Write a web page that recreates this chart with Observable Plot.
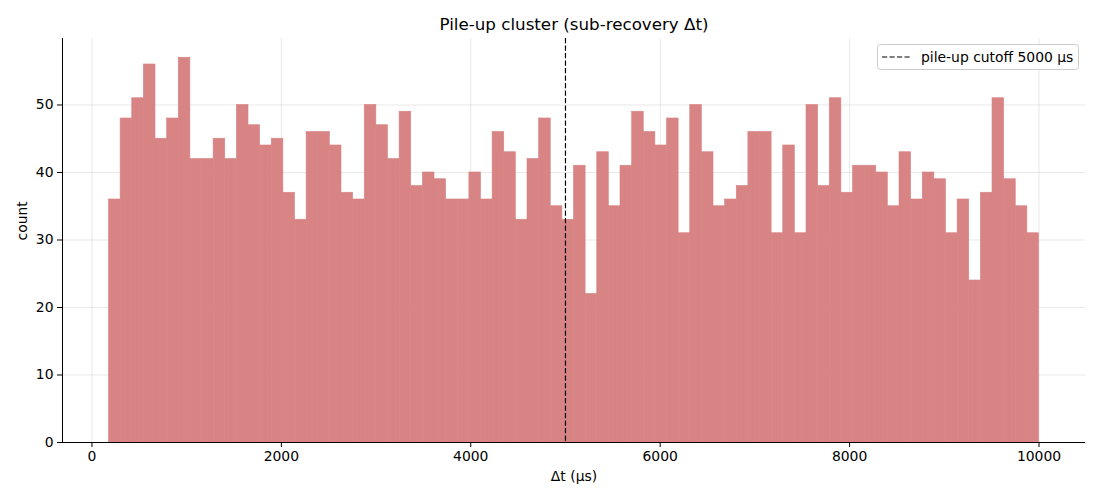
<!DOCTYPE html>
<html>
<head>
<meta charset="utf-8">
<script src="https://cdn.jsdelivr.net/npm/d3@7"></script>
<script src="https://cdn.jsdelivr.net/npm/@observablehq/plot@0.6"></script>
<style>
  html, body { margin: 0; padding: 0; background: #fff; }
  #chart { width: 1100px; height: 500px; position: relative; }
  svg { font-family: "DejaVu Sans", sans-serif; }
</style>
</head>
<body>
<div id="chart"></div>
<script>
// Histogram of Δt (µs): 80 equal-width bins from binLo to binHi
const binLo = 180;
const binHi = 10000;
const counts = [
  36, 48, 51, 56, 45, 48, 57, 42, 42, 45,
  42, 50, 47, 44, 45, 37, 33, 46, 46, 44,
  37, 36, 50, 47, 42, 49, 38, 40, 39, 36,
  36, 40, 36, 46, 43, 33, 42, 48, 35, 33,
  41, 22, 43, 35, 41, 49, 46, 44, 48, 31,
  50, 43, 35, 36, 38, 46, 46, 31, 44, 31,
  50, 38, 51, 37, 41, 41, 40, 35, 43, 36,
  40, 39, 31, 36, 24, 37, 51, 39, 35, 31
];
const cutoff = 5000;
const xTicks = [0, 2000, 4000, 6000, 8000, 10000];
const yTicks = [0, 10, 20, 30, 40, 50];
const titleText = "Pile-up cluster (sub-recovery Δt)";
const xLabel = "Δt (µs)";
const yLabel = "count";
const legendLabel = "pile-up cutoff 5000 µs";
const barColor = "#d88484";

const w = (binHi - binLo) / counts.length;
const bins = counts.map((c, i) => ({x1: binLo + i * w, x2: binLo + (i + 1) * w, y: c}));
const span = binHi - binLo;
const xDomain = [binLo - 0.05 * span, binHi + 0.05 * span];
const yDomain = [0, d3.max(counts) * 1.05];

const mL = 62, mR = 15, mT = 38, mB = 58, W = 1100, H = 500;
const dash = "5.2,2.3";

const chart = Plot.plot({
  width: W, height: H,
  marginLeft: mL, marginRight: mR, marginTop: mT, marginBottom: mB,
  style: {fontFamily: "DejaVu Sans, sans-serif", fontSize: "13.9px", color: "#000", background: "#fff"},
  x: {domain: xDomain, ticks: xTicks, tickFormat: d => String(d), label: null},
  y: {domain: yDomain, ticks: yTicks, tickFormat: d => String(d), label: null},
  marks: [
    Plot.gridX(xTicks, {stroke: "#b0b0b0", strokeOpacity: 0.35, strokeWidth: 0.8}),
    Plot.gridY(yTicks, {stroke: "#b0b0b0", strokeOpacity: 0.35, strokeWidth: 0.8}),
    Plot.rectY(bins, {x1: "x1", x2: "x2", y: "y", fill: barColor, stroke: barColor, strokeWidth: 0.6, inset: 0}),
    Plot.ruleX([cutoff], {stroke: "#000", strokeWidth: 1.2, strokeDasharray: dash}),
    Plot.axisX(xTicks, {tickSize: 5, tickPadding: 4, tickFormat: d => String(d), fontSize: 13.9, stroke: "#000"}),
    Plot.axisY(yTicks, {tickSize: 5, tickPadding: 4, tickFormat: d => String(d), fontSize: 13.9, stroke: "#000"}),
    Plot.ruleY([0], {stroke: "#000", strokeWidth: 1}),
    Plot.ruleX([xDomain[0]], {stroke: "#000", strokeWidth: 1}),
    Plot.text([titleText], {frameAnchor: "top", dy: -20, fontSize: 16.7, fill: "#000"}),
    Plot.text([xLabel], {frameAnchor: "bottom", dy: 38, fontSize: 13.9, fill: "#000"}),
    Plot.text([yLabel], {frameAnchor: "left", dx: -40, rotate: -90, fontSize: 13.9, fill: "#000"})
  ]
});
document.getElementById("chart").appendChild(chart);

// Legend (top-right, matplotlib style)
const svg = d3.select(chart);
const lg = svg.append("g").attr("transform", "translate(877,44)");
lg.append("rect").attr("x", 0.5).attr("y", 0.5).attr("width", 201).attr("height", 25)
  .attr("rx", 3).attr("fill", "#fff").attr("fill-opacity", 0.8).attr("stroke", "#cccccc").attr("stroke-width", 1);
lg.append("line").attr("x1", 5).attr("x2", 34).attr("y1", 13).attr("y2", 13)
  .attr("stroke", "#000").attr("stroke-width", 1.2).attr("stroke-dasharray", dash);
lg.append("text").attr("x", 44).attr("y", 17.8).attr("font-size", 13.9).attr("fill", "#000")
  .attr("text-anchor", "start")
  .attr("font-family", "DejaVu Sans, sans-serif").text(legendLabel);
</script>
</body>
</html>
